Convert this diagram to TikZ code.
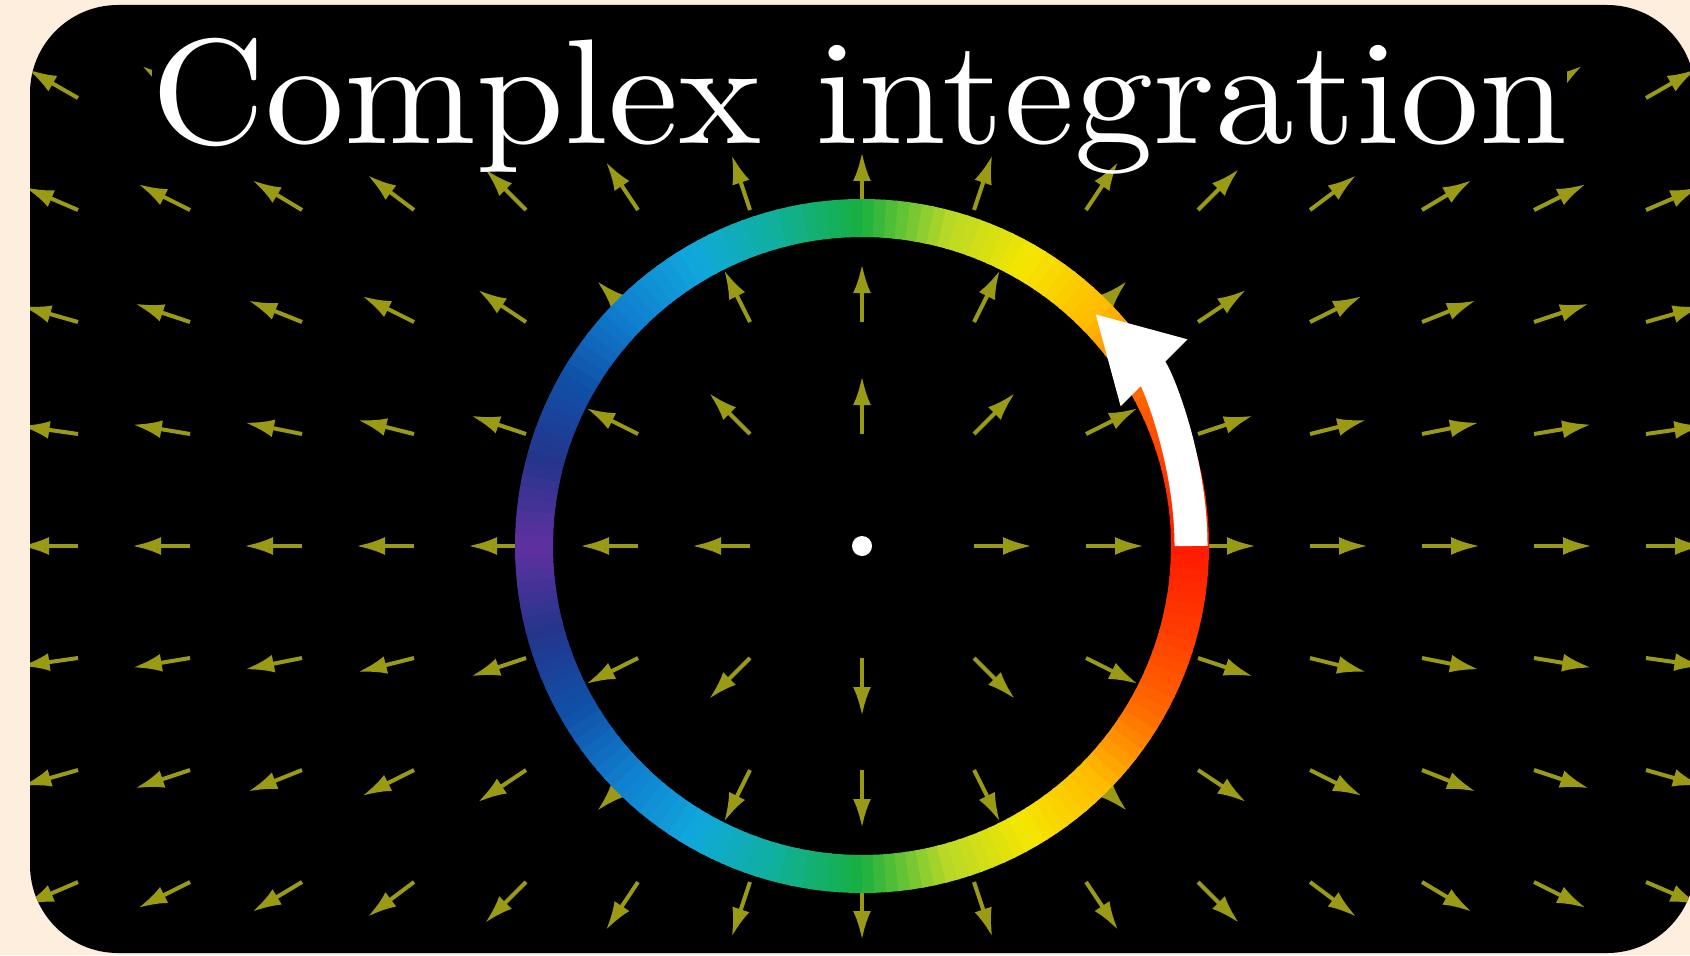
\documentclass[tikz,border=0pt]{standalone}
\usepackage{xcolor}
\definecolor{cPaper}{HTML}{FDEEDD}
\definecolor{cField}{HTML}{9A9A14}
% ring colours, every 15 degrees of |angle|
\definecolor{ringc0}{HTML}{FF1A00}
\definecolor{ringc1}{HTML}{FF3C00}
\definecolor{ringc2}{HTML}{FF6A00}
\definecolor{ringc3}{HTML}{FFBC00}
\definecolor{ringc4}{HTML}{F5E600}
\definecolor{ringc5}{HTML}{B8D828}
\definecolor{ringc6}{HTML}{18B040}
\definecolor{ringc7}{HTML}{10B09A}
\definecolor{ringc8}{HTML}{10A8DC}
\definecolor{ringc9}{HTML}{1080D0}
\definecolor{ringc10}{HTML}{1050A8}
\definecolor{ringc11}{HTML}{25358C}
\definecolor{ringc12}{HTML}{6030A0}
\definecolor{ringc13}{HTML}{6030A0}
\usepackage{tikz}
\usetikzlibrary{arrows.meta}
\tikzset{
  field-arrow/.style={-{Latex[length=2.9mm,width=1.8mm]},
    line width=0.4mm,draw=cField,fill=cField},
  ring-seg/.style={line width=3.8mm},
  path-arrow/.style={-{Triangle[length=8.4mm,width=8.8mm]},
    line width=3.3mm,draw=white},
  title-text/.style={fill=black,text=white,inner xsep=0pt,inner ysep=2pt,
    text depth=0pt,anchor=base west},
}

\begin{document}
\begin{tikzpicture}
  \useasboundingbox[fill=cPaper] (0,0) rectangle (16.9,9.55);
  \coordinate (C) at (8.62,4.09);
  \fill[black,rounded corners=8.8mm] (0.30,0.02) rectangle (16.95,9.50);
  % vector field, pointing away from the centre
  \begin{scope}
    \clip[rounded corners=8.8mm] (0.30,0.02) rectangle (16.95,9.50);
    \foreach \i in {-7,...,7}
      \foreach \j in {-3,...,4}{
        \pgfmathtruncatemacro\rr{\i*\i+\j*\j}
        \ifnum\rr>0
          \pgfmathsetmacro\ang{atan2(\j,\i)}
          \draw[field-arrow] ([shift={(\i*1.12,\j*1.12)}]C) -- ++(\ang:0.58);
        \fi
      }
  \end{scope}
  % coloured ring
  \foreach \a in {0,2,...,358}{
    \pgfmathsetmacro\ringphi{\a+1<181 ? \a+1 : 359-\a}
    \pgfmathsetmacro\rings{\ringphi/15}
    \pgfmathtruncatemacro\ringk{floor(\rings)}
    \pgfmathtruncatemacro\ringp{100*(\rings-\ringk)}
    \pgfmathtruncatemacro\ringkk{\ringk+1}
    \draw[ring-seg,draw=ringc\ringkk!\ringp!ringc\ringk]
      ([shift={(\a:3.28)}]C) arc[start angle=\a,end angle=\a+2.4,radius=3.28];
  }
  \draw[path-arrow] ([shift={(0:3.29)}]C) arc[start angle=0,end angle=45,radius=3.29];
  \fill[white] (C) circle (0.1);
  \node[title-text] (title) at (1.51,8.12) {\scalebox{4.5}[4.25]{Complex integration}};
\end{tikzpicture}
\end{document}
